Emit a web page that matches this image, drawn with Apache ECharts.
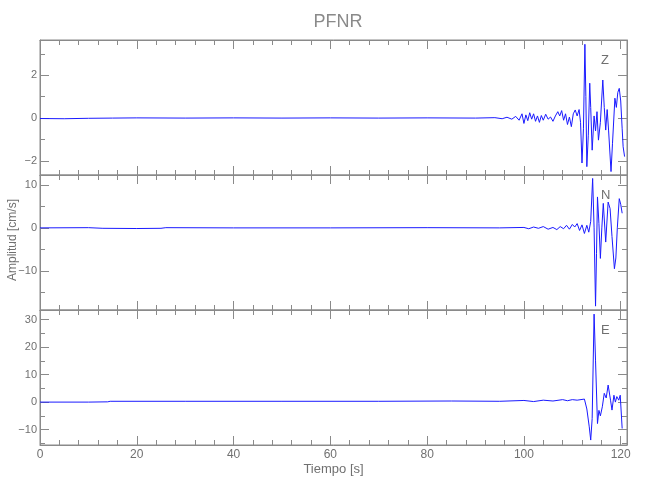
<!DOCTYPE html>
<html>
<head>
<meta charset="utf-8">
<script src="https://cdn.jsdelivr.net/npm/echarts@6/dist/echarts.min.js"></script>
<style>html,body{margin:0;padding:0;background:#fff}#c{width:650px;height:500px}</style>
</head>
<body>
<div id="c"></div>
<script>
// ---- data ----
var titleText = 'PFNR';
var xName = 'Tiempo [s]';
var yName = 'Amplitud [cm/s]';
var componentNames = ['Z', 'N', 'E'];

var zTime = [0,5,10,15,20,30,40,50,60,70,80,90,94,95.5,96.5,97.5,98.3,99.0,99.6,100.0,100.4,100.8,101.2,101.6,102.0,102.4,102.8,103.2,103.6,104.0,104.5,105.0,105.5,106.0,106.5,107.0,107.4,107.8,108.2,108.6,109.0,109.4,109.8,110.2,110.6,111.0,111.4,111.7,112.0,112.3,112.6,112.8,113.0,113.3,113.6,113.8,114.1,114.5,114.8,115.1,115.4,115.8,116.3,116.6,116.9,117.2,117.5,118.0,118.3,118.8,119.1,119.4,119.7,120.0,120.3,120.5,120.8];
var zAmp  = [-0.02,-0.03,-0.01,0,0.01,0,0.01,0,0.01,0,0.01,0,0.02,-0.03,0.04,-0.05,0.08,-0.1,0.2,-0.25,0.15,-0.12,0.25,-0.05,0.2,-0.15,0.1,-0.2,0.12,-0.1,0.18,-0.05,0.05,-0.15,0.1,0.3,0.1,0.35,-0.1,0.2,-0.3,0.05,-0.4,0.2,0.38,0.1,0.4,-0.2,-2.1,-0.5,3.45,1.0,-2.27,-0.8,1.63,0.5,-1.5,0.1,-0.6,0.3,-1.03,-0.2,1.78,0.5,-0.56,0.4,-0.6,-2.5,-1.2,0.93,0.5,1.2,1.39,0.8,-0.5,-1.34,-1.8];

var nTime = [0,10,13,20,25,26,40,60,80,95,100,101,102,103,104,105,106,106.8,107.5,108.2,108.8,109.4,110.0,110.5,111.0,111.5,112.0,112.5,113.0,113.4,113.8,114.2,114.5,114.8,115.0,115.2,115.5,115.8,116.1,116.4,116.9,117.4,117.8,118.2,118.7,119.0,119.3,119.7,120.0,120.3];
var nAmp  = [0,0.05,-0.1,-0.15,-0.1,0.05,0,0,0.05,0,0.1,-0.2,0.2,-0.1,0.3,-0.3,0.1,-0.4,0.3,-0.2,0.6,-0.3,0.8,0.2,1.0,-0.6,0.7,-1.3,0.6,-1.0,1.5,11.5,0,-18.2,-6,7.2,1,-7.1,0,5.7,-3.3,6.0,4.5,-2,-9.5,-7,0,6.8,5.5,3.4];

var eTime = [0,10,14,14.5,30,50,70,85,95,100,102,104,106,108,109,110,111,112.5,113.0,113.5,113.8,114.1,114.5,114.8,115.2,115.5,115.8,116.2,116.6,117.0,117.4,117.9,118.2,118.6,118.9,119.2,119.6,119.9,120.3];
var eAmp  = [0,0,0.1,0.3,0.3,0.3,0.3,0.4,0.3,0.6,0.2,0.7,0.4,0.9,0.5,0.9,0.7,1.1,-2.5,-9,-13.8,-6,32.0,15,-7.8,-3,-5,-1.7,3.2,1.5,6.2,0.7,-2.9,2.5,0,2,0.7,2.5,-9.6];

var xTickLabels = [0,20,40,60,80,100,120];
var yRanges = [[-2.66,3.65],[-19.1,12.3],[-15.6,33.5]];
var ySplit = [3,3,5];
var xRange = [0,121.3];

// ---- chart ----
function pairs(t, a){ var r=[]; for (var i=0;i<t.length;i++) r.push([t[i],a[i]]); return r; }
var series = [pairs(zTime,zAmp), pairs(nTime,nAmp), pairs(eTime,eAmp)];

var axisCol = '#8a8a8a';
var txtCol = '#707070';
var font = '"Liberation Sans Narrow","Liberation Sans",sans-serif';
function fmtNum(v){ return v < 0 ? '\u2212' + Math.abs(v) : String(v); }
function isInt(v){ return Math.abs(v - Math.round(v)) < 1e-9; }

var tops = [40,175,310];
var grids = [], xAxes = [], yAxes = [], ser = [], graphics = [];
for (var i=0;i<3;i++){
  grids.push({left:40, right:23, top:tops[i], height:135, show:true, borderColor:axisCol, borderWidth:1, backgroundColor:'transparent'});
  var isBottom = (i===2);
  ['bottom','top'].forEach(function(pos){
    xAxes.push({
      type:'value', gridIndex:i, position:pos, min:xRange[0], max:xRange[1], interval:20,
      name: (pos==='bottom' && isBottom) ? xName : '',
      nameLocation:'middle', nameGap:18,
      nameTextStyle:{color:txtCol, fontFamily:font, fontSize:13},
      axisLine:{show:true, onZero:false, lineStyle:{color:axisCol}},
      axisTick:{show:true, inside:true, length:9, lineStyle:{color:axisCol}},
      minorTick:{show:true, splitNumber:5, length:5, lineStyle:{color:axisCol}},
      splitLine:{show:false},
      axisLabel:{show:(pos==='bottom' && isBottom), margin:4, color:txtCol, fontFamily:font, fontSize:12,
        formatter:function(v){ return xTickLabels.indexOf(v) >= 0 ? String(v) : ''; }}
    });
  });
  (function(idx){
    ['left','right'].forEach(function(pos){
      yAxes.push({
        type:'value', gridIndex:idx, position:pos, min:yRanges[idx][0], max:yRanges[idx][1], splitNumber:ySplit[idx],
        axisLine:{show:true, onZero:false, lineStyle:{color:axisCol}},
        axisTick:{show:true, inside:true, length:9, lineStyle:{color:axisCol}},
        minorTick:{show:true, splitNumber:2, length:5, lineStyle:{color:axisCol}},
        splitLine:{show:false},
        axisLabel:{show:(pos==='left'), margin:3, color:txtCol, fontFamily:font, fontSize:11,
          showMinLabel:false, showMaxLabel:false,
          formatter:function(v){ return isInt(v) ? fmtNum(Math.round(v)) : ''; }}
      });
    });
  })(i);
  ser.push({
    type:'line', xAxisIndex:i*2, yAxisIndex:i*2, data:series[i], showSymbol:false, symbol:'none',
    sampling:null, smooth:false, lineStyle:{color:'#1a1aff', width:1}, animation:false, silent:true
  });
  graphics.push({type:'text', left:601, top:tops[i]+14, style:{text:componentNames[i], fill:txtCol, font:'13px '+font}});
}
graphics.push({type:'text', x:13, y:240, rotation:Math.PI/2,
  style:{text:yName, fill:txtCol, font:'12px '+font, align:'center', verticalAlign:'middle'}});

var chart = echarts.init(document.getElementById('c'), null, {renderer:'canvas'});
chart.setOption({
  animation:false,
  backgroundColor:'#fff',
  title:{text:titleText, left:333, top:8, textAlign:'center', textStyle:{color:'#8a8a8a', fontFamily:font, fontWeight:'normal', fontSize:18}},
  grid:grids, xAxis:xAxes, yAxis:yAxes, series:ser, graphic:graphics
});
</script>
</body>
</html>
